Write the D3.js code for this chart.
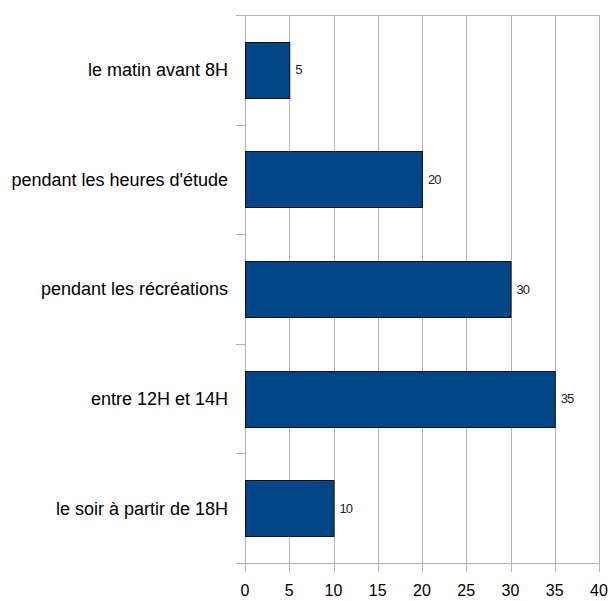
<!DOCTYPE html>
<html>
<head>
<meta charset="utf-8">
<script src="https://cdn.jsdelivr.net/npm/d3@7"></script>
<style>
body { margin: 0; background: #fff; }
svg { display: block; font-family: "Liberation Sans", Arial, sans-serif; }
</style>
</head>
<body>
<svg id="chart" width="608" height="601"></svg>
<script>
// data
const categories = [
	"le matin avant 8H",
	"pendant les heures d'étude",
	"pendant les récréations",
	"entre 12H et 14H",
	"le soir à partir de 18H"
];
const values = [5, 20, 30, 35, 10];
const xTicks = [0, 5, 10, 15, 20, 25, 30, 35, 40];

const svg = d3.select("#chart");
const margin = { top: 15, right: 9, bottom: 38, left: 245 };
const width = 608 - margin.left - margin.right;
const height = 601 - margin.top - margin.bottom;

const x = d3.scaleLinear().domain([0, 40]).range([0, width]);
const y = d3.scaleBand().domain(categories).range([0, height]).paddingInner(0.49).paddingOuter(0.245);

const g = svg.append("g")
	.attr("transform", `translate(${margin.left},${margin.top})`);

const gridColor = "#b3b3b3";

// vertical grid lines + ticks below
g.append("g")
	.selectAll("line")
	.data(xTicks)
	.enter()
	.append("line")
	.attr("x1", d => Math.round(x(d)) + 0.5)
	.attr("x2", d => Math.round(x(d)) + 0.5)
	.attr("y1", 0)
	.attr("y2", height + 9)
	.attr("stroke", gridColor)
	.attr("stroke-width", 1);

// top and bottom lines
[0, height].forEach(function (yy) {
	g.append("line")
		.attr("x1", -9)
		.attr("x2", width + 1)
		.attr("y1", yy + 0.5)
		.attr("y2", yy + 0.5)
		.attr("stroke", gridColor);
});

// category separators on the y axis
const step = height / categories.length;
g.append("g")
	.selectAll("line")
	.data(d3.range(1, categories.length))
	.enter()
	.append("line")
	.attr("x1", -9)
	.attr("x2", 0)
	.attr("y1", d => Math.round(d * step) + 0.5)
	.attr("y2", d => Math.round(d * step) + 0.5)
	.attr("stroke", gridColor);

// x tick labels
g.append("g")
	.selectAll("text")
	.data(xTicks)
	.enter()
	.append("text")
	.attr("x", d => x(d))
	.attr("y", height + 33)
	.attr("text-anchor", "middle")
	.attr("font-size", 16)
	.attr("fill", "#000")
	.text(d => d);

// bars
g.append("g")
	.selectAll("rect")
	.data(values)
	.enter()
	.append("rect")
	.attr("x", 0.5)
	.attr("y", (d, i) => Math.round(y(categories[i])) + 0.5)
	.attr("width", d => x(d))
	.attr("height", Math.round(y.bandwidth()))
	.attr("fill", "#004586")
	.attr("stroke", "#111")
	.attr("stroke-width", 1);

// value labels
g.append("g")
	.selectAll("text")
	.data(values)
	.enter()
	.append("text")
	.attr("x", d => x(d) + 6)
	.attr("y", (d, i) => y(categories[i]) + y.bandwidth() / 2)
	.attr("dy", "0.35em")
	.attr("font-size", 13)
	.attr("letter-spacing", -1)
	.attr("fill", "#222")
	.text(d => d);

// category labels
g.append("g")
	.selectAll("text")
	.data(categories)
	.enter()
	.append("text")
	.attr("x", -17)
	.attr("y", d => y(d) + y.bandwidth() / 2)
	.attr("dy", "0.35em")
	.attr("text-anchor", "end")
	.attr("font-size", 18)
	.attr("fill", "#000")
	.text(d => d);
</script>
</body>
</html>
